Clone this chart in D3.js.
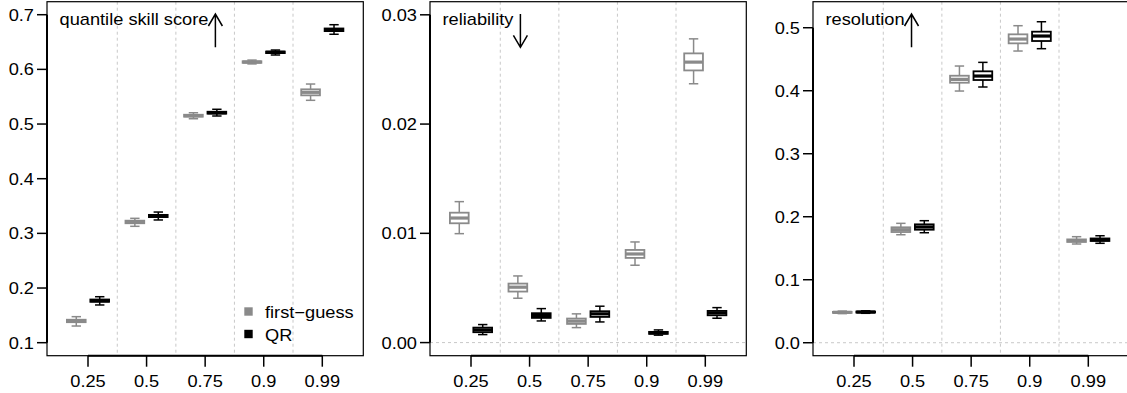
<!DOCTYPE html>
<html>
<head>
  <meta charset="utf-8">
  <title> quantile verification boxplots </title>
  <script src="https://d3js.org/d3.v7.min.js"></script>
  <style>
    body { margin: 0; background: #fff; }
    text { font-family: "Liberation Sans", Arial, sans-serif; font-size: 16px; fill: #000; }
  </style>
</head>
<body>
<script>
// quantile levels on the x axis
var categories = ['0.25', '0.5', '0.75', '0.9', '0.99'];
var methods = ['first\u2212guess', 'QR'];

// each entry: [lower whisker, q1, median, q3, upper whisker]
var qssFirstGuess = [[0.1305, 0.1375, 0.1397, 0.1420, 0.1476], [0.3129, 0.3185, 0.3208, 0.3232, 0.3275],
  [0.5097, 0.5135, 0.5152, 0.5170, 0.5207], [0.6100, 0.6120, 0.6134, 0.6148, 0.6170], [0.5434, 0.5525, 0.5580, 0.5635, 0.5732]];
var qssQR = [[0.1690, 0.1748, 0.1768, 0.1790, 0.1841], [0.3245, 0.3298, 0.3318, 0.3338, 0.3390],
  [0.5147, 0.5190, 0.5207, 0.5225, 0.5270], [0.6263, 0.6298, 0.6312, 0.6326, 0.6354], [0.6642, 0.6700, 0.6725, 0.6748, 0.6817]];

var relFirstGuess = [[0.00997, 0.01092, 0.0114, 0.01189, 0.0129], [0.00406, 0.00467, 0.00507, 0.0054, 0.0061],
  [0.00137, 0.00171, 0.00196, 0.0022, 0.00263], [0.00708, 0.00775, 0.00811, 0.00848, 0.00921], [0.02369, 0.02491, 0.02567, 0.02647, 0.0278]];
var relQR = [[0.00073, 0.00095, 0.00116, 0.00137, 0.00165], [0.00198, 0.00226, 0.00247, 0.00269, 0.00311],
  [0.00189, 0.00235, 0.00263, 0.00287, 0.00333], [0.00068, 0.0008, 0.00089, 0.00098, 0.00116], [0.00223, 0.0025, 0.00272, 0.0029, 0.0032]];

var resFirstGuess = [[0.0462, 0.0474, 0.0482, 0.0490, 0.0502], [0.1714, 0.1757, 0.1794, 0.1832, 0.1895],
  [0.3995, 0.4127, 0.4180, 0.4238, 0.4392], [0.4630, 0.4752, 0.4820, 0.4895, 0.5032], [0.1567, 0.1600, 0.1619, 0.1640, 0.1683]];
var resQR = [[0.0467, 0.0479, 0.0487, 0.0495, 0.0507], [0.1746, 0.1794, 0.1837, 0.1879, 0.1937],
  [0.4059, 0.4170, 0.4233, 0.4308, 0.4450], [0.4667, 0.4789, 0.4868, 0.4937, 0.5095], [0.1578, 0.1615, 0.1635, 0.1655, 0.1698]];

var qssTicks = [0.1, 0.2, 0.3, 0.4, 0.5, 0.6, 0.7];
var relTicks = [0, 0.01, 0.02, 0.03];
var resTicks = [0, 0.1, 0.2, 0.3, 0.4, 0.5];

var colors = ['#8a8a8a', '#000000'];
var stretch = 1.14;   // text in the original is a bit wider than tall

var svg = d3.select('body').append('svg').attr('width', 1127).attr('height', 393);

// draw text horizontally stretched around its anchor
function label(parent, x, y, str, anchor) {
  var g = parent.append('g').attr('transform', 'translate(' + x + ',' + y + ') scale(' + stretch + ',1)');
  var t = g.append('text').attr('text-anchor', anchor || 'start').text(str);
  return t.node().getComputedTextLength() * stretch;
}

var panels = [
  { left: 47, title: 'quantile skill score', up: true, domain: [0.0762, 0.7238], ticks: qssTicks, fmt: d3.format('.1f'), series: [qssFirstGuess, qssQR], zero: false, legend: true },
  { left: 430, title: 'reliability', up: false, domain: [-0.0012, 0.0312], ticks: relTicks, fmt: d3.format('.2f'), series: [relFirstGuess, relQR], zero: true },
  { left: 813, title: 'resolution', up: true, domain: [-0.0206, 0.5413], ticks: resTicks, fmt: d3.format('.1f'), series: [resFirstGuess, resQR], zero: true }
];

var pw = 316.3, plotTop = 1.7, plotBottom = 355.7;

panels.forEach(function (p) {
  var g = svg.append('g');
  var x = d3.scaleLinear().domain([0.3, 5.7]).range([p.left, p.left + pw]);
  var y = d3.scaleLinear().domain(p.domain).range([plotBottom, plotTop]);

  // category separators
  g.selectAll('.sep').data([1.5, 2.5, 3.5, 4.5]).enter().append('line')
    .attr('x1', function (d) { return x(d); }).attr('x2', function (d) { return x(d); })
    .attr('y1', plotTop).attr('y2', plotBottom)
    .attr('stroke', '#c8c8c8').attr('stroke-dasharray', '3,3');
  if (p.zero) {
    g.append('line').attr('x1', x(0.3)).attr('x2', x(5.7)).attr('y1', y(0)).attr('y2', y(0))
      .attr('stroke', '#c8c8c8').attr('stroke-dasharray', '3,3');
  }

  // boxplots
  var half = 0.16, cap = 0.08;
  p.series.forEach(function (s, k) {
    var off = k === 0 ? -0.2 : 0.2;
    var col = colors[k];
    s.forEach(function (b, i) {
      var cx = i + 1 + off;
      var bg = g.append('g').attr('stroke', col).attr('fill', 'none');
      bg.append('line').attr('x1', x(cx)).attr('x2', x(cx)).attr('y1', y(b[0])).attr('y2', y(b[4])).attr('stroke-width', 1.5);
      [b[0], b[4]].forEach(function (v) {
        bg.append('line').attr('x1', x(cx - cap)).attr('x2', x(cx + cap)).attr('y1', y(v)).attr('y2', y(v)).attr('stroke-width', 1.5);
      });
      bg.append('rect').attr('x', x(cx - half)).attr('width', x(cx + half) - x(cx - half))
        .attr('y', y(b[3])).attr('height', y(b[1]) - y(b[3]))
        .attr('fill', '#fff').attr('stroke-width', 1.8);
      bg.append('line').attr('x1', x(cx - half)).attr('x2', x(cx + half)).attr('y1', y(b[2])).attr('y2', y(b[2])).attr('stroke-width', 3.2);
    });
  });

  // frame
  g.append('rect').attr('x', x(0.3)).attr('y', plotTop).attr('width', pw).attr('height', plotBottom - plotTop)
    .attr('fill', 'none').attr('stroke', '#000').attr('stroke-width', 1.2);

  // y axis
  var ya = g.append('g');
  ya.append('line').attr('x1', p.left).attr('x2', p.left)
    .attr('y1', y(p.ticks[0])).attr('y2', y(p.ticks[p.ticks.length - 1])).attr('stroke', '#000').attr('stroke-width', 2);
  p.ticks.forEach(function (t) {
    ya.append('line').attr('x1', p.left - 10).attr('x2', p.left).attr('y1', y(t)).attr('y2', y(t)).attr('stroke', '#000').attr('stroke-width', 1.5);
    label(ya, p.left - 13, y(t) + 6, p.fmt(t), 'end');
  });

  // x axis
  var xa = g.append('g');
  xa.append('line').attr('x1', x(1)).attr('x2', x(5)).attr('y1', plotBottom).attr('y2', plotBottom).attr('stroke', '#000').attr('stroke-width', 2);
  categories.forEach(function (c, i) {
    xa.append('line').attr('x1', x(i + 1)).attr('x2', x(i + 1)).attr('y1', plotBottom).attr('y2', plotBottom + 11).attr('stroke', '#000').attr('stroke-width', 1.5);
    label(xa, x(i + 1), 387, c, 'middle');
  });

  // title with arrow
  var tw = label(g, p.left + 12.5, 25, p.title, 'start');
  var ax = p.left + 12.5 + tw + 7;
  var tip = p.up ? 14 : 47.3, tail = p.up ? 47.3 : 14;
  var hd = p.up ? 12 : -12;
  g.append('path')
    .attr('d', 'M' + ax + ',' + tail + 'L' + ax + ',' + tip +
      'M' + (ax - 7) + ',' + (tip + hd) + 'L' + ax + ',' + tip + 'L' + (ax + 7) + ',' + (tip + hd))
    .attr('fill', 'none').attr('stroke', '#000').attr('stroke-width', 1.5);

  // legend
  if (p.legend) {
    methods.forEach(function (m, k) {
      var ly = [311.5, 334][k];
      g.append('rect').attr('x', 244.3).attr('y', ly - 4.2).attr('width', 8.4).attr('height', 8.4).attr('fill', colors[k]);
      label(g, 265, ly + 6.5, m, 'start');
    });
  }
});
</script>
</body>
</html>
